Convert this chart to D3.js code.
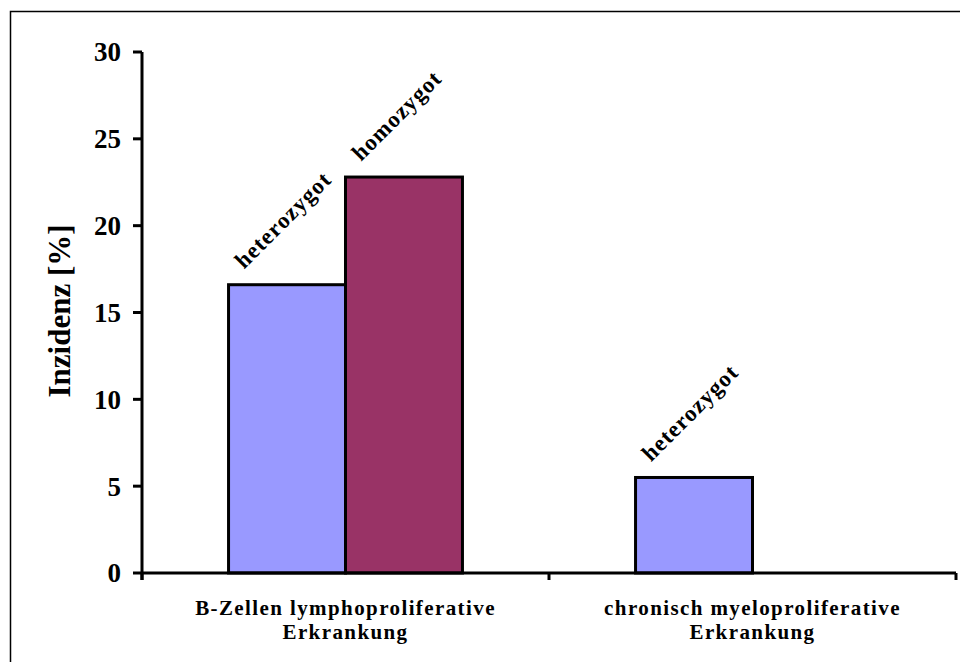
<!DOCTYPE html>
<html>
<head>
<meta charset="utf-8">
<script src="https://cdn.jsdelivr.net/npm/d3@7"></script>
<style>
  html, body { margin: 0; padding: 0; background: #fff; }
  svg { display: block; }
</style>
</head>
<body>
<svg id="chart" width="960" height="662"></svg>
<script>
// Incidence by disease group and genotype
const categories = [
  ["B-Zellen lymphoproliferative", "Erkrankung"],
  ["chronisch myeloproliferative", "Erkrankung"]
];
const seriesNames = ["heterozygot", "homozygot"];
const heterozygot = [16.6, 5.5];
const homozygot = [22.8, null];
const yTicks = [0, 5, 10, 15, 20, 25, 30];
const seriesColors = ["#9999FF", "#993366"];

const svg = d3.select("#chart");
const font = "'Liberation Serif', 'Times New Roman', serif";

// frame line on left and top
svg.append("path")
  .attr("d", "M10.5,662 V11.5 H960")
  .attr("fill", "none")
  .attr("stroke", "#000")
  .attr("stroke-width", 1.5);

const plot = { left: 142, right: 956, top: 52, bottom: 573 };

const y = d3.scaleLinear().domain([0, 30]).range([plot.bottom, plot.top]);
const x0 = d3.scaleBand()
  .domain(d3.range(categories.length))
  .range([plot.left, plot.right])
  .padding(0);
const x1 = d3.scaleBand()
  .domain(seriesNames)
  .range([0, x0.bandwidth()])
  .paddingInner(0)
  .paddingOuter(0.74);

const values = { heterozygot, homozygot };

// bars
const bars = [];
categories.forEach((c, i) => {
  seriesNames.forEach((s, j) => {
    const v = values[s][i];
    if (v != null) bars.push({ cat: i, series: s, color: seriesColors[j], value: v });
  });
});

svg.append("g").selectAll("rect")
  .data(bars)
  .join("rect")
  .attr("x", d => x0(d.cat) + x1(d.series))
  .attr("y", d => y(d.value))
  .attr("width", x1.bandwidth())
  .attr("height", d => y(0) - y(d.value))
  .attr("fill", d => d.color)
  .attr("stroke", "#000")
  .attr("stroke-width", 3);

// rotated series labels above bars
svg.append("g").selectAll("text")
  .data(bars)
  .join("text")
  .attr("transform", d => {
    const cx = x0(d.cat) + x1(d.series) + x1.bandwidth() / 2;
    return `translate(${cx - 43},${y(d.value) - 15}) rotate(-45)`;
  })
  .attr("font-family", font)
  .attr("font-weight", "bold")
  .attr("font-size", 23)
  .attr("letter-spacing", 1)
  .attr("fill", "#000")
  .text(d => d.series);

// y axis
const yAxis = svg.append("g");
yAxis.append("line")
  .attr("x1", plot.left).attr("x2", plot.left)
  .attr("y1", y(30)).attr("y2", y(0) + 7)
  .attr("stroke", "#000").attr("stroke-width", 3);
yAxis.selectAll("line.tick")
  .data(yTicks)
  .join("line")
  .attr("class", "tick")
  .attr("x1", plot.left - 9).attr("x2", plot.left)
  .attr("y1", d => y(d)).attr("y2", d => y(d))
  .attr("stroke", "#000").attr("stroke-width", 3);
yAxis.selectAll("text")
  .data(yTicks)
  .join("text")
  .attr("x", 121)
  .attr("y", d => y(d))
  .attr("dy", "0.35em")
  .attr("text-anchor", "end")
  .attr("font-family", font)
  .attr("font-weight", "bold")
  .attr("font-size", 27)
  .text(d => d);

// y axis title
svg.append("text")
  .attr("transform", "translate(70,311) rotate(-90)")
  .attr("text-anchor", "middle")
  .attr("font-family", font)
  .attr("font-weight", "bold")
  .attr("font-size", 31)
  .text("Inzidenz [%]");

// x axis
const xAxis = svg.append("g");
xAxis.append("line")
  .attr("x1", plot.left).attr("x2", plot.right)
  .attr("y1", y(0)).attr("y2", y(0))
  .attr("stroke", "#000").attr("stroke-width", 3);
const xTickPos = d3.range(categories.length).map(i => x0(i)).concat([plot.right]);
xAxis.selectAll("line.tick")
  .data(xTickPos)
  .join("line")
  .attr("class", "tick")
  .attr("x1", d => d).attr("x2", d => d)
  .attr("y1", y(0)).attr("y2", y(0) + 7)
  .attr("stroke", "#000").attr("stroke-width", 3);

const catLabels = xAxis.selectAll("text.cat")
  .data(categories)
  .join("text")
  .attr("class", "cat")
  .attr("text-anchor", "middle")
  .attr("font-family", font)
  .attr("font-weight", "bold")
  .attr("font-size", 21)
  .attr("letter-spacing", 1.4);
catLabels.each(function(lines, i) {
  const t = d3.select(this);
  lines.forEach((ln, k) => {
    t.append("tspan")
      .attr("x", x0(i) + x0.bandwidth() / 2)
      .attr("y", 615 + k * 24)
      .text(ln);
  });
});
</script>
</body>
</html>
